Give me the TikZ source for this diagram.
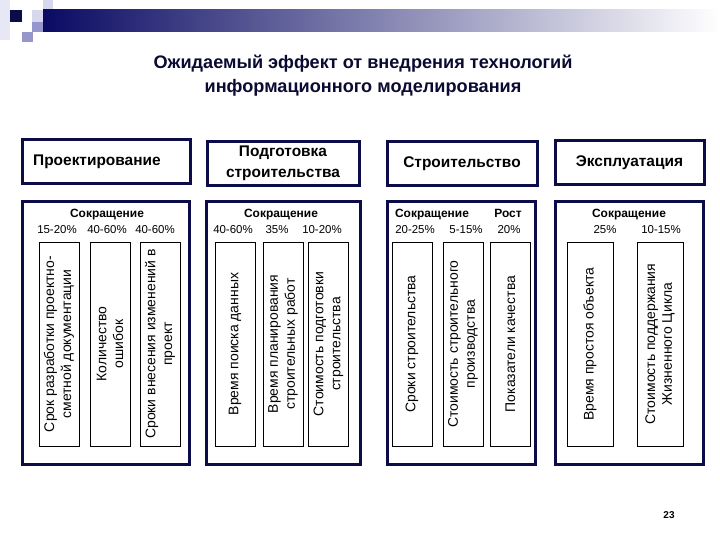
\documentclass[tikz,border=0pt]{standalone}
\usepackage{fontspec}
\setmainfont{Liberation Sans}
\definecolor{navy}{RGB}{12,12,72}
\definecolor{titleblue}{RGB}{10,10,50}
\definecolor{lav}{RGB}{150,150,205}
\definecolor{palelav}{RGB}{215,215,238}

\begin{document}
\begin{tikzpicture}[x=1bp,y=-1bp,
  phase/.style={draw=navy,line width=3bp,minimum height=44bp,inner sep=0pt,align=center,
    font=\bfseries\fontsize{15.5}{21}\selectfont},
  frame/.style={draw=navy,line width=3bp,minimum height=262bp,inner sep=0pt},
  gain/.style={font=\bfseries\fontsize{12}{14}\selectfont,inner sep=0pt,anchor=base},
  pct/.style={font=\fontsize{11.5}{14}\selectfont,inner sep=0pt,anchor=base},
  metric/.style={draw,line width=0.8bp,rotate=90,minimum width=204bp,align=center,inner sep=0pt,
    font=\fontsize{14}{17}\selectfont}]
\useasboundingbox (0,0) rectangle (720,540);

% top-left decoration
\fill[palelav!60] (0,0) rectangle (10,40);
\fill[navy] (10,10) rectangle (22,22);
\fill[palelav] (43,0) rectangle (53,10);
\fill[palelav] (32,10) rectangle (43,22);
\fill[lav] (32,22) rectangle (43,32);
\fill[lav] (22,32) rectangle (33,42);
\shade[left color=navy!85!blue,right color=white] (43,10) rectangle (720,32);

\node[text=titleblue,align=center,font=\bfseries\fontsize{18.2}{24}\selectfont] (title) at (363,76)
  {Ожидаемый эффект от внедрения технологий\\информационного моделирования};

\node[phase,minimum width=167bp] (proj) at (106.5,162) {};
\node[anchor=west,font=\bfseries\fontsize{15.5}{20}\selectfont,inner sep=0pt] (projtxt) at (33,162) {Проектирование};
\node[phase,minimum width=152bp] (prep) at (283,163.5) {Подготовка\\строительства};
\node[phase,minimum width=150bp] (build) at (462,163.5) {Строительство};
\node[phase,minimum width=149bp] (oper) at (629.5,162.5) {Эксплуатация};

\node[frame,minimum width=166bp] (projbox) at (106,333) {};
\node[frame,minimum width=154bp] (prepbox) at (283,333) {};
\node[frame,minimum width=148bp] (buildbox) at (461,333) {};
\node[frame,minimum width=148bp] (operbox) at (629,333) {};

\node[gain] (projcut) at (107,218) {Сокращение};
\node[pct] (p1) at (57,234) {15-20\%};
\node[pct] (p2) at (107,234) {40-60\%};
\node[pct] (p3) at (155,234) {40-60\%};

\node[gain] (prepcut) at (281,218) {Сокращение};
\node[pct] (p4) at (233,234) {40-60\%};
\node[pct] (p5) at (277,234) {35\%};
\node[pct] (p6) at (322,234) {10-20\%};

\node[gain] (buildcut) at (432,218) {Сокращение};
\node[gain] (buildgrow) at (508,218) {Рост};
\node[pct] (p7) at (415,234) {20-25\%};
\node[pct] (p8) at (466,234) {5-15\%};
\node[pct] (p9) at (509,234) {20\%};

\node[gain] (opercut) at (629,218) {Сокращение};
\node[pct] (p10) at (605,234) {25\%};
\node[pct] (p11) at (661,234) {10-15\%};

\node[metric,minimum height=40bp] (m1) at (59,344) {Срок разработки проектно-\\сметной документации};
\node[metric,minimum height=40bp] (m2) at (110,344) {Количество\\ошибок};
\node[metric,minimum height=40bp] (m3) at (160,344) {Сроки внесения изменений в\\проект};

\node[metric,minimum height=40bp] (m4) at (235,344) {Время поиска данных};
\node[metric,minimum height=40bp] (m5) at (283,344) {Время планирования\\строительных работ};
\node[metric,minimum height=40bp] (m6) at (328.5,344) {Стоимость подготовки\\строительства};

\node[metric,minimum height=40bp] (m7) at (412,344) {Сроки строительства};
\node[metric,minimum height=40bp] (m8) at (463,344) {Стоимость строительного\\производства};
\node[metric,minimum height=40bp] (m9) at (510.5,344) {Показатели качества};

\node[metric,minimum height=46bp] (m10) at (590,344) {Время простоя объекта};
\node[metric,minimum height=46bp] (m11) at (660,344) {Стоимость поддержания\\Жизненного Цикла};

\node[font=\bfseries\fontsize{10}{12}\selectfont] (page) at (669,515) {23};
\end{tikzpicture}
\end{document}
